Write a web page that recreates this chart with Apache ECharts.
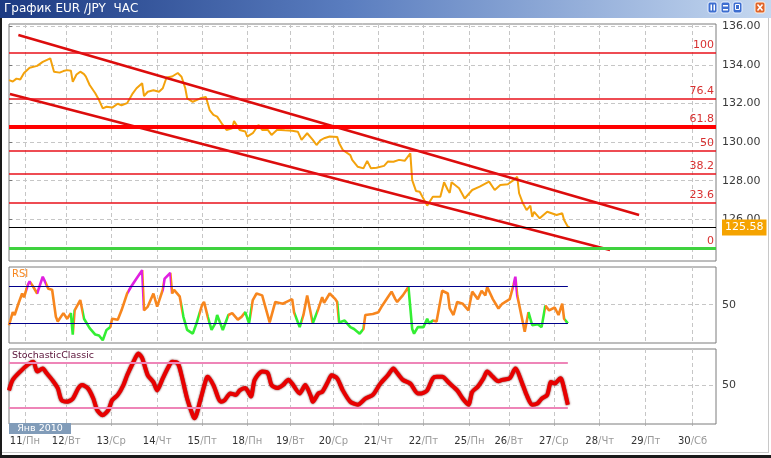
<!DOCTYPE html>
<html><head><meta charset="utf-8">
<script src="https://cdn.jsdelivr.net/npm/echarts@6/dist/echarts.min.js"></script>
<style>html,body{margin:0;padding:0;background:#fff;}#c{width:771px;height:458px;}</style>
</head><body><div id="c"></div>
<script>
// ---------- DATA ----------
const titleText = 'График EUR /JPY  ЧАС';
const monthLabel = 'Янв 2010';
const hoursMax = 377;
const dayTicks = [8.5, 30.5, 54.5, 79, 103, 127, 150, 173, 197, 221, 245.5, 266.5, 290.5, 315, 339.5, 364.5];
const dayNums  = ['11','12','13','14','15','18','19','20','21','22','25','26','27','28','29','30'];
const dayNames = ['Пн','Вт','Ср','Чт','Пт','Пн','Вт','Ср','Чт','Пт','Пн','Вт','Ср','Чт','Пт','Сб'];
const priceTicks = [126, 128, 130, 132, 134, 136];

const priceHours = [0,2,4,6,8,11,15,18,22,23,24,27,29,31,33,34,36,38,40,41,43,46,48,50,52,55,58,60,63,66,68,71,72,74,77,80,82,84,87,90,92,94,95,98,102,105,107,109,111,114,116,119,120,123,126,127,130,133,135,138,140,143,147,151,154,156,159,162,164,166,168,171,175,176,178,182,183,186,189,191,193,196,200,202,205,208,211,214,215,217,219,223,226,230,232,234,235,236,240,243,247,251,256,259,262,266,269,271,272,274,276,278,279,280,283,287,288,292,295,296,298,299];
const priceValues = [133.21,133.14,133.29,133.24,133.58,133.85,133.95,134.16,134.34,134.25,133.65,133.60,133.68,133.73,133.70,133.12,133.50,133.65,133.52,133.39,132.96,132.53,132.18,131.75,131.83,131.79,131.99,131.91,132.02,132.53,132.79,133.05,132.39,132.61,132.69,132.61,132.79,133.35,133.40,133.58,133.39,132.79,132.27,132.09,132.27,132.34,131.66,131.41,131.32,130.89,130.63,130.72,131.09,130.63,130.55,130.29,130.46,130.89,130.63,130.63,130.37,130.64,130.61,130.59,130.54,130.12,130.46,130.12,129.85,130.09,130.20,130.29,130.27,129.95,129.59,129.33,129.08,128.72,128.64,129.03,128.64,128.67,128.77,128.99,128.98,129.08,129.03,129.42,128.03,127.47,127.43,126.71,127.17,127.17,127.92,127.52,127.37,127.92,127.61,127.08,127.52,127.69,127.95,127.52,127.78,127.82,128.03,128.20,127.35,126.84,126.48,126.71,126.13,126.39,126.05,126.39,126.31,126.22,126.31,125.96,125.62,125.58];
const lastPrice = 125.58;

const fibLevels = [134.62, 132.23, 130.80, 129.55, 128.38, 126.88, 124.50];
const fibLabels = ['100', '76.4', '61.8', '50', '38.2', '23.6', '0'];

const channelUpper = [[5, 135.55], [336, 126.22]];
const channelLower = [[0.5, 132.49], [320.5, 124.41]];

const rsiHours = [0,2,3,5,7,8,10,11,13,15,18,19,21,23,25,26,29,31,33,34,35,38,40,43,46,48,50,52,54,55,58,60,63,65,68,71,72,74,77,79,82,83,86,87,88,91,93,95,98,100,103,104,106,108,110,111,114,115,117,119,122,124,126,128,129,130,132,135,139,142,146,148,151,152,155,157,159,162,165,167,168,171,174,175,176,179,182,184,187,189,190,194,197,199,202,204,206,207,210,213,215,216,218,221,223,224,226,228,231,234,235,237,239,242,245,247,250,252,254,255,258,261,263,267,269,270,271,274,275,277,279,282,284,286,288,291,293,295,296,298];
const rsiValues = [28,42,39,51,62,58,71,75,69,62,80,82,67,66,37,32,41,35,41,18,44,55,35,25,18,17,12,23,26,35,34,44,62,69,78,87,44,48,62,48,66,78,84,62,66,59,37,23,19,30,50,53,37,23,30,39,23,23,39,41,34,37,42,30,30,55,62,60,31,53,51,53,56,42,26,39,60,30,46,58,52,62,56,53,31,33,26,24,19,24,39,40,42,49,58,64,56,53,60,69,24,19,26,26,35,30,33,32,65,62,46,39,53,51,44,64,56,65,60,69,56,46,51,56,71,80,60,31,21,42,28,29,26,49,44,47,39,51,35,30];
const rsiLevels = [70, 30];
const rsiGreenHours = [[32.5,34.5],[39.5,54],[92.5,101.5],[106,117],[125.5,128.8],[152.3,156.3],[161.8,164.3],[175.3,188.8],[212.8,226.3],[276.5,286],[296.3,299]];
const rsiMagentaHours = [[9.5,11.8],[14.8,19.8],[63.5,71.2],[82,86.5],[268.5,271]];

const stochHours = [0,2,6,10,13,15,18,20,23,26,28,31,34,37,39,42,45,47,50,53,55,58,61,63,66,69,71,74,77,79,82,85,87,90,92,95,98,99,102,105,106,109,113,115,118,121,123,126,129,131,135,138,140,143,146,149,151,155,158,161,162,165,167,170,172,175,178,182,186,190,194,198,202,205,207,210,214,218,220,223,226,228,231,235,239,242,245,247,250,253,255,258,261,263,267,270,274,276,279,282,284,287,289,291,294,295,298];
const stochValues = [43,57,68,77,81,68,72,66,57,46,30,28,32,46,50,46,32,17,10,17,30,37,50,63,79,92,86,63,54,43,59,74,81,79,63,32,10,6,30,57,61,50,28,30,39,37,43,46,35,57,68,66,50,46,50,57,52,39,50,35,28,39,41,54,63,59,43,28,24,32,37,52,63,72,66,57,52,39,39,43,59,61,61,52,43,32,24,41,48,59,68,61,55,57,59,72,50,37,24,26,32,37,54,52,59,55,24];
const stochLevels = [80, 20];

// ---------- CHART ----------
const FONT = 'DejaVu Sans';
const zip = (xs, ys) => xs.map((x, i) => [x, ys[i]]);
const chart = echarts.init(document.getElementById('c'));

const gridBase = {left: 9, width: 707, show: true, borderColor: '#7c7c7c', borderWidth: 1, backgroundColor: '#fff', outerBoundsMode: 'none', containLabel: false};
const grids = [
  Object.assign({top: 24, height: 237}, gridBase),
  Object.assign({top: 267, height: 76}, gridBase),
  Object.assign({top: 349, height: 75}, gridBase)
];
const dashed = {color: '#c6c6c6', type: [4, 3], width: 1};

const xAxes = [0, 1, 2].map(i => ({
  type: 'value', gridIndex: i, min: 0, max: hoursMax,
  axisLine: {show: false},
  axisTick: {show: i === 2, customValues: dayTicks, length: 3, lineStyle: {color: '#aaa'}},
  axisLabel: {
    show: i === 2, customValues: dayTicks, margin: 12,
    formatter: v => {
      const k = dayTicks.findIndex(t => Math.abs(t - v) < 0.01);
      return k < 0 ? '' : '{d|' + dayNums[k] + '}{w|/' + dayNames[k] + '}';
    },
    rich: {
      d: {color: '#333', fontSize: 10, fontFamily: FONT},
      w: {color: '#9a9a9a', fontSize: 10, fontFamily: FONT}
    }
  },
  splitLine: {show: true, lineStyle: dashed}
}));

const yLabel = {color: '#3a3a3a', fontFamily: FONT, fontSize: 11, margin: 6};
const yAxes = [
  {type: 'value', gridIndex: 0, position: 'right', min: 123.84, max: 136.12,
   axisLine: {show: false},
   axisTick: {show: true, customValues: priceTicks, length: 3, lineStyle: {color: '#777'}},
   axisLabel: Object.assign({customValues: priceTicks, formatter: v => v.toFixed(2)}, yLabel),
   splitLine: {show: true, lineStyle: dashed}},
  {type: 'value', gridIndex: 1, position: 'right', min: 9, max: 90.4,
   axisLine: {show: false},
   axisTick: {show: true, customValues: [50], length: 3, lineStyle: {color: '#777'}},
   axisLabel: Object.assign({customValues: [50]}, yLabel),
   splitLine: {show: true, lineStyle: dashed}},
  {type: 'value', gridIndex: 2, position: 'right', min: -1.6, max: 97.9,
   axisLine: {show: false},
   axisTick: {show: true, customValues: [50], length: 3, lineStyle: {color: '#777'}},
   axisLabel: Object.assign({customValues: [50]}, yLabel),
   splitLine: {show: true, lineStyle: dashed}}
];

const fibMarks = fibLevels.map((lv, i) => {
  const lbl = fibLabels[i];
  let ls = {color: '#e8101a', width: 1.5, type: 'solid', opacity: 1};
  if (lbl === '61.8') ls = {color: '#ff0000', width: 4, type: 'solid', opacity: 1};
  if (lbl === '0') ls = {color: '#3fd23f', width: 3, type: 'solid', opacity: 1};
  return {yAxis: lv, lineStyle: ls,
    label: {show: true, position: 'insideEndTop', formatter: lbl, color: '#d83030', fontSize: 11, fontFamily: FONT, distance: [2, 2]}};
});

const lastH = rsiHours[rsiHours.length - 1];
const levelLines = (levels, color, width) => levels.map(l => [
  {coord: [0, l], lineStyle: {color: color, width: width, type: 'solid'}}, {coord: [lastH, l]}
]);

const pieces = rsiGreenHours.map(r => ({gte: r[0], lte: r[1], color: '#33ee33'}))
  .concat(rsiMagentaHours.map(r => ({gte: r[0], lte: r[1], color: '#e020e0'})));

const option = {
  animation: false,
  backgroundColor: '#fff',
  grid: grids,
  xAxis: xAxes,
  yAxis: yAxes,
  visualMap: [{type: 'piecewise', show: false, seriesIndex: 4, dimension: 0, pieces: pieces, outOfRange: {color: '#f7861e'}}],
  series: [
    {type: 'line', name: 'levels', xAxisIndex: 0, yAxisIndex: 0, data: [], z: 1, silent: true, color: '#e8101a',
     markLine: {symbol: ['none', 'none'], silent: true, animation: false,
       lineStyle: {color: '#e8101a', width: 1.5, type: 'solid', opacity: 1}, data: fibMarks}},
    {type: 'line', name: 'EUR/JPY', xAxisIndex: 0, yAxisIndex: 0, data: zip(priceHours, priceValues),
     symbol: 'none', z: 3, lineStyle: {color: '#f3a20c', width: 2},
     markLine: {symbol: ['none', 'none'], silent: true, animation: false,
       data: [{yAxis: lastPrice, lineStyle: {color: '#000', width: 1, type: 'solid'},
         label: {show: true, position: 'end', formatter: lastPrice.toFixed(2), color: '#fff', backgroundColor: '#f5a300',
           padding: [3, 3, 2, 3], fontSize: 11, fontFamily: FONT, distance: 6}}]}},
    {type: 'line', name: 'chanUp', xAxisIndex: 0, yAxisIndex: 0, data: channelUpper, symbol: 'none', z: 4,
     lineStyle: {color: '#dc0c0c', width: 2.5}},
    {type: 'line', name: 'chanLow', xAxisIndex: 0, yAxisIndex: 0, data: channelLower, symbol: 'none', z: 4,
     lineStyle: {color: '#dc0c0c', width: 2.5}},
    {type: 'line', name: 'RSI', xAxisIndex: 1, yAxisIndex: 1, data: zip(rsiHours, rsiValues), symbol: 'none', z: 3,
     lineStyle: {width: 2.6},
     markLine: {symbol: ['none', 'none'], silent: true, label: {show: false}, data: levelLines(rsiLevels, '#00008b', 1.2)}},
    {type: 'line', name: 'Stoch', xAxisIndex: 2, yAxisIndex: 2, data: zip(stochHours, stochValues), symbol: 'none', z: 3,
     smooth: 0.25,
     lineStyle: {color: '#e80000', width: 4, shadowColor: 'rgba(90,0,0,0.9)', shadowBlur: 2},
     markLine: {symbol: ['none', 'none'], silent: true, label: {show: false}, data: levelLines(stochLevels, '#ee85b8', 2)}}
  ],
  graphic: [
    {type: 'rect', shape: {x: 0, y: 0, width: 771, height: 18}, z: 100,
     style: {fill: new echarts.graphic.LinearGradient(0, 0, 1, 0, [
       {offset: 0, color: '#1c3a82'}, {offset: 0.45, color: '#5a7dbf'}, {offset: 1, color: '#c5d8f0'}])}},
    {type: 'text', x: 4, y: 9, z: 101, style: {text: titleText, fill: '#fff', font: '12px DejaVu Sans', textVerticalAlign: 'middle'}},
    // window buttons
    {type: 'rect', shape: {x: 708, y: 2, width: 9, height: 11, r: 2}, z: 101, style: {fill: '#3d6ed0', stroke: '#e8f0ff', lineWidth: 1}},
    {type: 'rect', shape: {x: 710.5, y: 4.5, width: 1.5, height: 6}, z: 102, style: {fill: '#fff'}},
    {type: 'rect', shape: {x: 713.5, y: 4.5, width: 1.5, height: 6}, z: 102, style: {fill: '#fff'}},
    {type: 'rect', shape: {x: 721, y: 2, width: 9, height: 11, r: 2}, z: 101, style: {fill: '#3d6ed0', stroke: '#e8f0ff', lineWidth: 1}},
    {type: 'rect', shape: {x: 723, y: 5, width: 5, height: 1.5}, z: 102, style: {fill: '#fff'}},
    {type: 'rect', shape: {x: 723, y: 9, width: 5, height: 1.5}, z: 102, style: {fill: '#fff'}},
    {type: 'rect', shape: {x: 733, y: 2, width: 9, height: 11, r: 2}, z: 101, style: {fill: '#3d6ed0', stroke: '#e8f0ff', lineWidth: 1}},
    {type: 'rect', shape: {x: 735.5, y: 4.5, width: 4, height: 5}, z: 102, style: {fill: 'none', stroke: '#fff', lineWidth: 1}},
    {type: 'rect', shape: {x: 755, y: 2, width: 10, height: 11, r: 2}, z: 101, style: {fill: '#e0652a', stroke: '#fff0e0', lineWidth: 1}},
    {type: 'line', shape: {x1: 757.5, y1: 4.5, x2: 762.5, y2: 10.5}, z: 102, style: {stroke: '#fff', lineWidth: 1.5}},
    {type: 'line', shape: {x1: 762.5, y1: 4.5, x2: 757.5, y2: 10.5}, z: 102, style: {stroke: '#fff', lineWidth: 1.5}},
    // pane captions
    {type: 'text', x: 12, y: 274, z: 50, style: {text: 'RSI', fill: '#f7861e', font: '10px DejaVu Sans', textVerticalAlign: 'middle'}},
    {type: 'text', x: 12, y: 356, z: 50, style: {text: 'StochasticClassic', fill: '#5a1238', font: '9.5px DejaVu Sans', textVerticalAlign: 'middle'}},
    // month box
    {type: 'rect', shape: {x: 9, y: 423, width: 62, height: 11}, z: 60, style: {fill: '#819cb9'}},
    {type: 'text', x: 40, y: 428.5, z: 61, style: {text: monthLabel, fill: '#fff', font: '9.5px DejaVu Sans', textAlign: 'center', textVerticalAlign: 'middle'}},
    // window frame
    {type: 'rect', shape: {x: 0, y: 18, width: 2, height: 440}, z: 90, style: {fill: '#1a1a1a'}},
    {type: 'rect', shape: {x: 0, y: 455, width: 771, height: 3}, z: 90, style: {fill: '#1a1a1a'}},
    {type: 'rect', shape: {x: 2, y: 452, width: 767, height: 1}, z: 90, style: {fill: '#c8c8c8'}},
    {type: 'rect', shape: {x: 768, y: 18, width: 1, height: 435}, z: 90, style: {fill: '#c8c8c8'}}
  ]
};
chart.setOption(option);
</script>
</body></html>
